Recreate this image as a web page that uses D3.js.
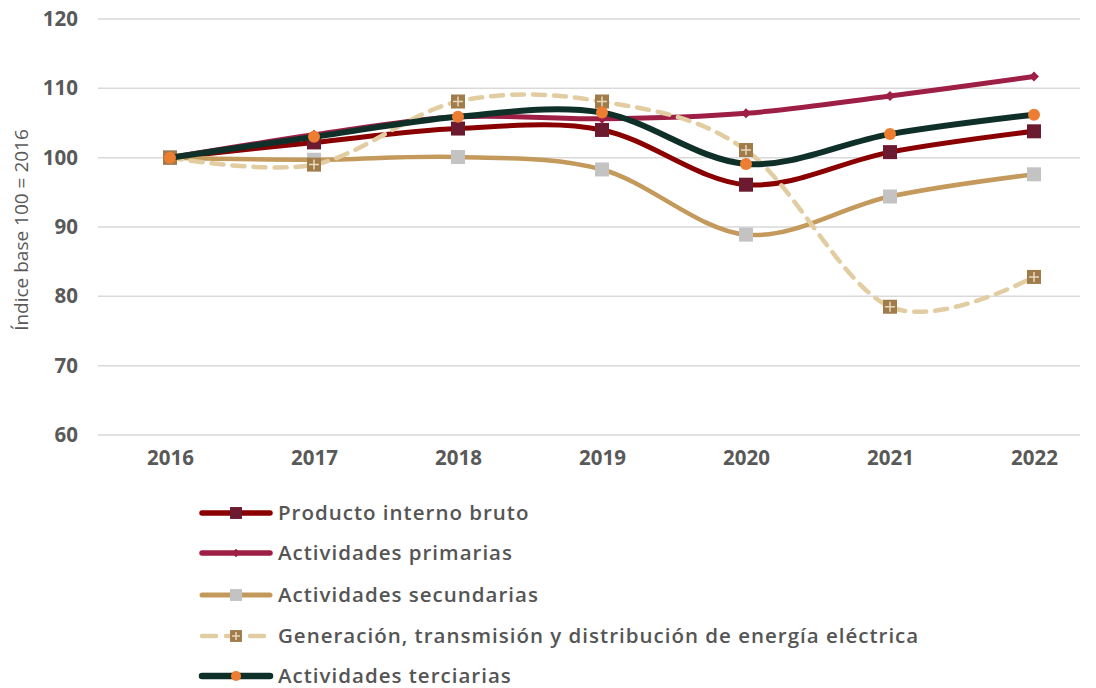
<!DOCTYPE html>
<html>
<head>
<meta charset="utf-8">
<script src="https://cdn.jsdelivr.net/npm/d3@7"></script>
<style>
  body { margin: 0; background: #fff; }
  svg text { font-family: "Open Sans", "Noto Sans", sans-serif; }
</style>
</head>
<body>
<div class="container"></div>
<script>
const WIDTH = 1096;
const HEIGHT = 688;

var years = ['2016', '2017', '2018', '2019', '2020', '2021', '2022'];
var yTicks = [60, 70, 80, 90, 100, 110, 120];

var pib        = [100, 102.2, 104.2, 104.0, 96.1, 100.8, 103.8];
var primarias  = [100, 103.3, 105.9, 105.6, 106.4, 108.9, 111.7];
var secundarias= [100, 99.7, 100.1, 98.3, 88.9, 94.4, 97.6];
var generacion = [100, 99.0, 108.1, 108.1, 101.1, 78.5, 82.8];
var terciarias = [100, 103.0, 105.9, 106.5, 99.1, 103.4, 106.2];

var seriesNames = [
  'Producto interno bruto',
  'Actividades primarias',
  'Actividades secundarias',
  'Generación, transmisión y distribución de energía eléctrica',
  'Actividades terciarias'
];

var series = [
  {name: seriesNames[0], values: pib, line: '#8a0000', width: 5, marker: 'square', fill: '#6b1a30', size: 14},
  {name: seriesNames[1], values: primarias, line: '#9e1f45', width: 5, marker: 'diamond', fill: '#9e1f45', size: 10},
  {name: seriesNames[2], values: secundarias, line: '#c49a5c', width: 4.5, marker: 'square', fill: '#c3c3c3', size: 14},
  {name: seriesNames[3], values: generacion, line: '#e2cda2', width: 4.5, dash: '12,9', marker: 'cross', fill: '#a07c4a', size: 14},
  {name: seriesNames[4], values: terciarias, line: '#0f3028', width: 6, marker: 'circle', fill: '#ed7d31', size: 12}
];

var svg = d3.select('.container').append('svg')
  .attr('width', WIDTH)
  .attr('height', HEIGHT);

var xScale = d3.scalePoint()
  .domain(years)
  .range([98, 1106])
  .padding(0.5);

var yScale = d3.scaleLinear()
  .domain([60, 120])
  .range([435, 19]);

// gridlines
svg.append('g').selectAll('line')
  .data(yTicks)
  .enter().append('line')
  .attr('x1', 98).attr('x2', 1080)
  .attr('y1', function(d){ return yScale(d); })
  .attr('y2', function(d){ return yScale(d); })
  .attr('stroke', '#d9d9d9')
  .attr('stroke-width', 1.5);

var yAxis = d3.axisLeft(yScale).tickValues(yTicks).tickSize(0).tickPadding(0);
var gy = svg.append('g')
  .attr('transform', 'translate(78,0)')
  .call(yAxis);
gy.select('.domain').remove();
gy.selectAll('text')
  .attr('font-size', 20.5).attr('font-weight', 700).attr('fill', '#595959')
  .attr('font-family', '"Open Sans", sans-serif');

var xAxis = d3.axisBottom(xScale).tickSize(0).tickPadding(0);
var gx = svg.append('g')
  .attr('transform', 'translate(0,450)')
  .call(xAxis);
gx.select('.domain').remove();
gx.selectAll('text')
  .attr('font-size', 20.5).attr('font-weight', 700).attr('fill', '#595959')
  .attr('font-family', '"Open Sans", sans-serif');

svg.append('text')
  .attr('transform', 'translate(28,230) rotate(-90)')
  .attr('text-anchor', 'middle')
  .attr('font-size', 19)
  .attr('font-family', '"DejaVu Sans", sans-serif')
  .attr('fill', '#595959')
  .text('Índice base 100 = 2016');

var line = d3.line()
  .x(function(d, i){ return xScale(years[i]); })
  .y(function(d){ return yScale(d); })
  .curve(d3.curveCardinal.tension(0));

var drawMarker = function(g, s, x, y, scale) {
  var k = scale || 1;
  var sz = s.size * k;
  if (s.marker === 'square') {
    g.append('rect')
      .attr('x', x - sz / 2).attr('y', y - sz / 2)
      .attr('width', sz).attr('height', sz)
      .attr('fill', s.fill);
  } else if (s.marker === 'diamond') {
    g.append('path')
      .attr('d', 'M' + x + ',' + (y - sz / 2) + 'L' + (x + sz / 2) + ',' + y + 'L' + x + ',' + (y + sz / 2) + 'L' + (x - sz / 2) + ',' + y + 'Z')
      .attr('fill', s.fill);
  } else if (s.marker === 'circle') {
    g.append('circle')
      .attr('cx', x).attr('cy', y).attr('r', sz / 2)
      .attr('fill', s.fill);
  } else if (s.marker === 'cross') {
    g.append('rect')
      .attr('x', x - sz / 2).attr('y', y - sz / 2)
      .attr('width', sz).attr('height', sz)
      .attr('fill', s.fill);
    g.append('path')
      .attr('d', 'M' + x + ',' + (y - sz / 2 + 2) + 'V' + (y + sz / 2 - 2) + 'M' + (x - sz / 2 + 2) + ',' + y + 'H' + (x + sz / 2 - 2))
      .attr('stroke', '#e8d9bd').attr('stroke-width', 1.5);
  }
};

series.forEach(function(s) {
  var g = svg.append('g');
  g.append('path')
    .datum(s.values)
    .attr('d', line)
    .attr('fill', 'none')
    .attr('stroke', s.line)
    .attr('stroke-width', s.width)
    .attr('stroke-linecap', 'round')
    .attr('stroke-dasharray', s.dash || null);
  s.values.forEach(function(v, i) {
    drawMarker(g, s, xScale(years[i]), yScale(v));
  });
});

// legend
var legend = svg.append('g');
var legendY = [513, 553, 595, 636, 676];
series.forEach(function(s, i) {
  var y = legendY[i];
  var g = legend.append('g');
  g.append('line')
    .attr('x1', 202).attr('x2', 270)
    .attr('y1', y).attr('y2', y)
    .attr('stroke', s.line)
    .attr('stroke-width', s.dash ? s.width : s.width + 0.5)
    .attr('stroke-linecap', 'round')
    .attr('stroke-dasharray', s.dash ? '14,10' : null);
  drawMarker(g, s, 236, y, 0.85);
  g.append('text')
    .attr('x', 278).attr('y', y)
    .attr('dy', '0.36em')
    .attr('font-size', 20.5)
    .attr('font-weight', 600)
    .attr('letter-spacing', 1.0)
    .attr('fill', '#555555')
    .text(s.name);
});
</script>
</body>
</html>
